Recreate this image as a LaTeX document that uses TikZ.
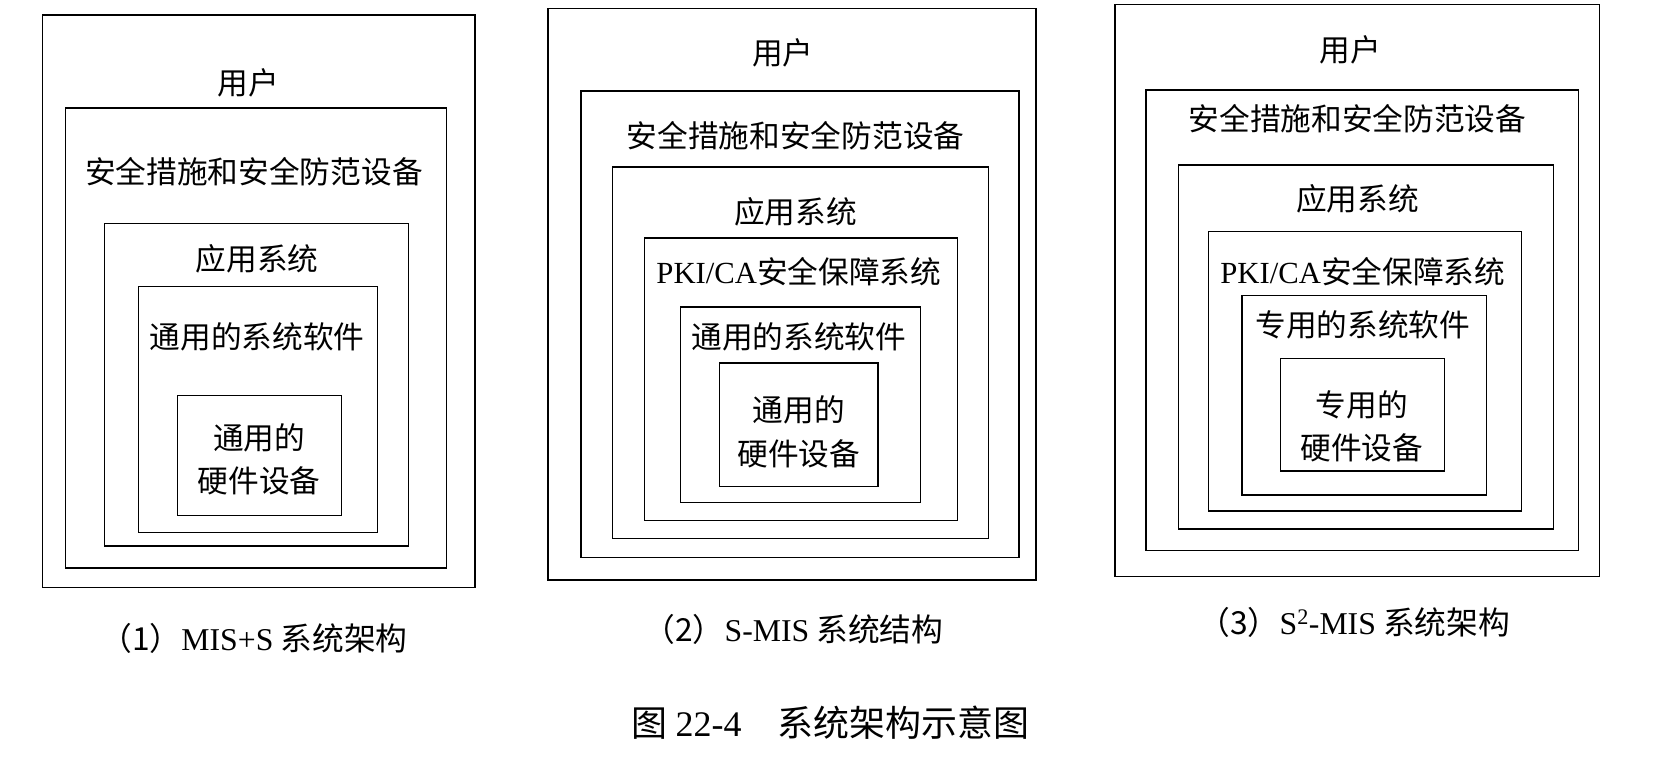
\documentclass[tikz,border=0pt]{standalone}
\usepackage{fontspec}
\setmainfont{Liberation Serif}
\newfontfamily\cjk{Noto Sans CJK SC}
\usepackage{tikz}

\begin{document}
\begin{tikzpicture}[
  x=1pt, y=-1pt,
  frame/.style={draw, line width=1.3pt},
  lbl/.style={font=\cjk\fontsize{29}{41}\selectfont, inner sep=0pt, align=center},
  captext/.style={font=\cjk\fontsize{30}{34}\selectfont, inner sep=0pt}
]
\useasboundingbox (0,0) rectangle (1568,716);

% (1) MIS+S
\draw[frame] (40,14) rectangle (449,555);
\draw[frame] (62,102) rectangle (422,537);
\draw[frame] (99,211) rectangle (386,516);
\draw[frame] (131,271) rectangle (357,503);
\draw[frame] (168,374) rectangle (323,487);
\node[lbl] (ausr) at (235,78) {用户};
\node[lbl] (asec) at (240,162) {安全措施和安全防范设备};
\node[lbl] (aapp) at (243,245) {应用系统};
\node[lbl] (asw) at (243,318) {通用的系统软件};
\node[lbl] (ahw) at (245,434) {通用的\\硬件设备};
\node[captext] (acap) at (240,603) {（1）{\rmfamily MIS+S} 系统架构};

% (2) S-MIS
\draw[frame] (518,8) rectangle (979,548);
\draw[frame] (549,86) rectangle (963,527);
\draw[frame] (579,158) rectangle (934,509);
\draw[frame] (609,225) rectangle (905,492);
\draw[frame] (643,290) rectangle (870,475);
\draw[frame] (680,343) rectangle (830,460);
\node[lbl] (busr) at (740,50) {用户};
\node[lbl] (bsec) at (752,128) {安全措施和安全防范设备};
\node[lbl] (bapp) at (752,200) {应用系统};
\node[lbl] (bpki) at (755,257) {{\rmfamily PKI/CA}安全保障系统};
\node[lbl] (bsw) at (755,318) {通用的系统软件};
\node[lbl] (bhw) at (755,408) {通用的\\硬件设备};
\node[captext] (bcap) at (750,595) {（2）{\rmfamily S-MIS} 系统结构};

% (3) S^2-MIS
\draw[frame] (1054,4) rectangle (1512,545);
\draw[frame] (1083,85) rectangle (1492,520);
\draw[frame] (1114,156) rectangle (1468,500);
\draw[frame] (1142,219) rectangle (1438,483);
\draw[frame] (1174,279) rectangle (1405,468);
\draw[frame] (1210,339) rectangle (1365,445);
\node[lbl] (cusr) at (1276,47) {用户};
\node[lbl] (csec) at (1283,112) {安全措施和安全防范设备};
\node[lbl] (capp) at (1283,188) {应用系统};
\node[lbl] (cpki) at (1288,257) {{\rmfamily PKI/CA}安全保障系统};
\node[lbl] (csw) at (1288,307) {专用的系统软件};
\node[lbl] (chw) at (1287,403) {专用的\\硬件设备};
\node[captext] (ccap) at (1280,588) {（3）{\rmfamily S\textsuperscript{2}-MIS} 系统架构};

% figure caption
\node[captext, font=\cjk\fontsize{34}{38}\selectfont] (fig) at (785,683) {图 {\rmfamily 22-4}\quad 系统架构示意图};
\end{tikzpicture}
\end{document}
